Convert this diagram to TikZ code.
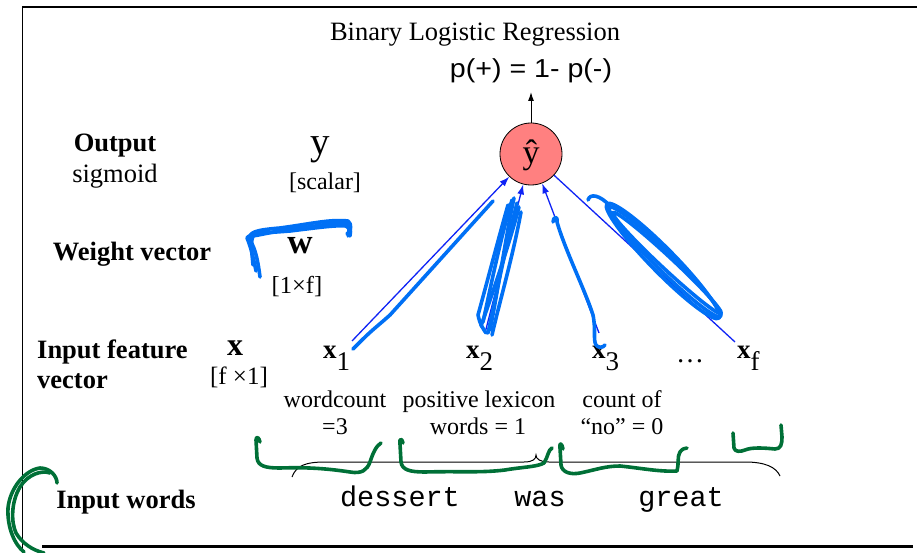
\documentclass[tikz,border=0pt]{standalone}
\usepackage{fontspec}
\setmainfont{Liberation Serif}
\setsansfont{Liberation Sans}
\setmonofont{Liberation Mono}
\usetikzlibrary{arrows.meta}
\definecolor{arrblue}{RGB}{15,35,245}
\definecolor{penblue}{RGB}{0,112,245}
\definecolor{pengreen}{RGB}{0,112,55}
\definecolor{nodered}{RGB}{255,128,128}
\newcommand\fsz[1]{\fontsize{#1}{#1}\selectfont}
\newcommand\feat[1]{\textbf{x}\raisebox{-12pt}{#1}}
\begin{document}
\begin{tikzpicture}[x=1pt,y=-1pt,
  txt/.style={inner sep=0pt, anchor=base},
  lbl/.style={txt, font=\fsz{26.5}\bfseries},
  desc/.style={txt, font=\fsz{24}},
  arr/.style={draw=arrblue, line width=1.3pt, -{Latex[length=10pt,width=7pt]}},
  pen/.style={draw=penblue, line width=3.6pt, line cap=round, line join=round},
  gpen/.style={draw=pengreen, line width=3.6pt, line cap=round, line join=round},
]
\useasboundingbox (0,0) rectangle (917,553);
% frame
\draw[line width=2.5pt] (22,7) -- (917,7);
\draw[line width=0.8pt] (22,7) -- (22,553);
\draw[line width=3pt] (42,546) -- (913,546);

% title and output
\node[txt, font=\fsz{26.5}] (title) at (475,41) {Binary Logistic Regression};
\node[txt, font=\sffamily\fsz{26}] (prob) at (531,78) {\scalebox{1.1}[1]{p(+) = 1- p(-)}};
\node[circle, draw, fill=nodered, minimum size=62pt, inner sep=0pt, line width=0.8pt] (yhat) at (531,154) {};
\node[txt, font=\fsz{34}] (yhaty) at (531,164) {ŷ};
\coordinate (ptip) at (531,92);
\draw[line width=1pt, -{Latex[length=9pt,width=6pt]}] (yhat) -- (ptip);

% left labels
\node[lbl] (outl) at (115,152) {Output};
\node[txt, font=\fsz{26.5}] (sigl) at (115,183) {sigmoid};
\node[lbl] (wl) at (132,260) {Weight vector};
\node[lbl, anchor=base west] (ifl1) at (37,358) {Input feature};
\node[lbl, anchor=base west] (ifl2) at (37,388) {vector};
\node[lbl] (iwl) at (126,508) {Input words};

% variables
\node[txt, font=\fsz{39}] (yv) at (320,155) {y};
\node[txt, font=\fsz{24}] (ysc) at (325,190) {[scalar]};
\node[txt, font=\fsz{35}\bfseries] (wv) at (300,253) {w};
\node[txt, font=\fsz{24.5}] (wsz) at (297,293) {[1×f]};
\node[txt, font=\fsz{32}\bfseries] (xv) at (235,355) {x};
\node[txt, font=\fsz{25}] (xsz) at (239,384) {[f ×1]};

% features
\node[txt, anchor=base west, font=\fsz{27}] (x1) at (323,358) {\feat{1}};
\node[txt, anchor=base west, font=\fsz{27}] (x2) at (466,358) {\feat{2}};
\node[txt, anchor=base west, font=\fsz{27}] (x3) at (592,358) {\feat{3}};
\node[txt, font=\fsz{28}] (dots) at (690,362) {…};
\node[txt, anchor=base west, font=\fsz{27}] (xf) at (737,358) {\feat{f}};

\node[desc] (f1a) at (335,407) {wordcount};
\node[desc] (f1b) at (335,434) {=3};
\node[desc] (f2a) at (479,407) {positive lexicon};
\node[desc] (f2b) at (478,434) {words = 1};
\node[desc] (f3a) at (622,407) {count of};
\node[desc] (f3b) at (622,434) {“no” = 0};

% words
\node[txt, font=\ttfamily\fsz{28.5}] (w1) at (400,506) {dessert};
\node[txt, font=\ttfamily\fsz{28.5}] (w2) at (540,506) {was};
\node[txt, font=\ttfamily\fsz{28.5}] (w3) at (681,506) {great};

% brace
\draw[line width=1pt] (292,477) .. controls (296,466) and (305,462) .. (325,462) -- (524,462)
  .. controls (533,462) and (536,459) .. (536,455) .. controls (536,459) and (540,462) .. (549,462)
  -- (745,462) .. controls (765,462) and (776,467) .. (780,476);

% arrows
\coordinate (a1) at (352,341);
\coordinate (a2) at (485,333);
\coordinate (a3) at (599,333);
\coordinate (a4) at (735,342);
\draw[arr] (a1) -- (yhat);
\draw[arr] (a2) -- (yhat);
\draw[arr] (a3) -- (yhat);
\draw[draw=arrblue, line width=1.3pt] (a4) -- (yhat);

% blue pen strokes
\draw[pen] (260,277) .. controls (258,262) and (256,250) .. (250,240) .. controls (248,232) and (256,230) .. (280,228) .. controls (310,224) and (330,219) .. (348,221) .. controls (352,224) and (351,230) .. (348,236);
\draw[pen] (256,271) .. controls (253,255) and (250,245) .. (247,238) .. controls (250,233) and (265,233) .. (290,231) .. controls (315,228) and (335,225) .. (346,226) .. controls (350,228) and (350,232) .. (347,234);
\draw[pen] (253,265) .. controls (252,252) and (250,244) .. (253,236) .. controls (270,233) and (285,229) .. (300,228) .. controls (325,225) and (338,222) .. (344,222) .. controls (351,226) and (351,230) .. (350,236);

\draw[pen] (353,349) -- (362,340) .. controls (372,330) and (380,324) .. (390,315) -- (493,201);

\draw[pen] (512,200) .. controls (500,240) and (490,290) .. (483,322);
\draw[pen] (517,203) .. controls (505,250) and (495,300) .. (488,333);
\draw[pen] (521,212) .. controls (512,260) and (500,300) .. (492,335);
\draw[pen] (508,205) .. controls (498,240) and (485,290) .. (478,315);
\draw[pen] (514,198) .. controls (507,230) and (498,290) .. (490,330);
\draw[pen] (519,207) .. controls (509,245) and (492,295) .. (481,326);
\draw[pen] (478,315) .. controls (480,325) and (484,330) .. (486,333);

\draw[pen] (553,222) .. controls (553,217) and (558,215) .. (557,222) .. controls (565,250) and (585,290) .. (593,315) .. controls (596,330) and (593,340) .. (596,345) .. controls (598,348) and (603,348) .. (605,345);

\draw[pen] (588,200) .. controls (590,193) and (600,195) .. (610,206);
\draw[pen, rotate around={-44.5:(665,262)}] (665,262) ellipse (78pt and 9pt);
\draw[pen, rotate around={-43:(667,263)}] (667,263) ellipse (74pt and 6pt);
\draw[pen, rotate around={-45.5:(663,261)}] (663,261) ellipse (80pt and 12pt);

% green pen strokes
\draw[gpen] (57,483) .. controls (57,476) and (50,468) .. (40,468) .. controls (25,470) and (10,488) .. (8,508) .. controls (7,528) and (15,545) .. (24,552);
\draw[gpen] (50,473) .. controls (42,470) and (28,474) .. (20,487) .. controls (11,502) and (11,522) .. (16,533) .. controls (22,543) and (32,550) .. (44,553);
\draw[gpen] (260,442) .. controls (259,437) and (256,436) .. (256,440) -- (257,458) .. controls (258,466) and (265,468) .. (280,468) .. controls (310,467) and (330,469) .. (350,472) .. controls (362,474) and (367,470) .. (370,462) .. controls (373,453) and (376,446) .. (381,443);
\draw[gpen] (403,443) .. controls (402,438) and (399,438) .. (400,444) -- (401,462) .. controls (402,470) and (410,472) .. (425,472) .. controls (460,471) and (480,473) .. (505,470) .. controls (522,467) and (537,467) .. (544,463) .. controls (548,457) and (548,450) .. (552,448);
\draw[gpen] (563,449) .. controls (562,443) and (559,442) .. (560,448) -- (561,465) .. controls (562,472) and (570,475) .. (580,473) .. controls (595,470) and (605,466) .. (620,466) .. controls (640,468) and (660,472) .. (677,471) .. controls (679,465) and (677,456) .. (680,452) .. controls (682,449) and (685,448) .. (687,448);
\draw[gpen] (733,433) -- (734,448) .. controls (735,452) and (740,452) .. (745,450) .. controls (752,447) and (765,448) .. (775,449) .. controls (781,449) and (782,444) .. (782,437) -- (781,425);
\end{tikzpicture}
\end{document}
